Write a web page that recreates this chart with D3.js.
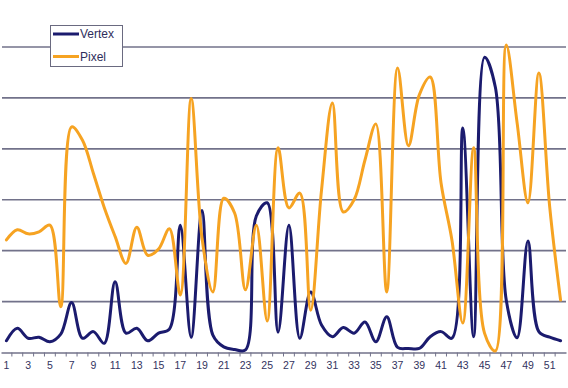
<!DOCTYPE html>
<html>
<head>
<meta charset="utf-8">
<script src="https://cdn.jsdelivr.net/npm/d3@7"></script>
<style>
  html, body { margin: 0; padding: 0; background: #ffffff; }
  svg { display: block; }
</style>
</head>
<body>
<svg id="chart" width="568" height="388"></svg>
<script>
const categories = d3.range(1, 53);
const tickLabels = d3.range(1, 52, 2);
const yTicks = [10, 20, 30, 40, 50, 60];

const vertex = [2.3, 4.75, 2.8, 3.0, 2.1, 3.6, 9.8, 2.8, 4.1, 1.8,
  13.9, 3.8, 4.75, 2.3, 3.8, 4.6, 25.0, 3.0, 27.9, 3.4,
  1.1, 0.6, 0.5, 26.8, 29.4, 4.0, 25.0, 2.8, 11.9, 5.4,
  3.1, 4.9, 3.8, 6.0, 2.1, 7.0, 1.0, 0.8, 0.8, 3.1,
  4.1, 2.8, 44.1, 3.1, 58.0, 52.1, 10.3, 2.9, 21.9, 4.1,
  3.0, 2.3];

const pixel = [22.1, 24.1, 23.3, 23.7, 25.0, 9.0, 44.3, 41.7, 35.2, 28.5,
  22.8, 17.5, 24.6, 19.1, 20.3, 24.3, 11.3, 49.9, 22.5, 11.9,
  30.3, 27.4, 12.3, 25.0, 6.2, 40.2, 28.4, 31.3, 8.3, 31.9,
  49.0, 27.6, 30.0, 37.8, 44.9, 11.9, 55.9, 40.6, 50.6, 54.1,
  33.3, 22.1, 5.8, 40.2, 3.8, 0.3, 60.4, 45.1, 29.4, 54.9,
  28.6, 10.3];

const series = [
  { name: "Vertex", values: vertex, color: "#1b1b6e" },
  { name: "Pixel", values: pixel, color: "#f6a322" }
];

const svg = d3.select("#chart");
const mLeft = 1, mRight = 566, mTop = 47, mBottom = 352.5;

const x = d3.scaleBand().domain(categories).range([mLeft, mRight]);
const y = d3.scaleLinear().domain([0, 60]).range([mBottom, mTop]);

// gridlines
svg.append("g").selectAll("line").data(yTicks).join("line")
  .attr("x1", mLeft + 1).attr("x2", mRight)
  .attr("y1", d => y(d)).attr("y2", d => y(d))
  .attr("stroke", "#72728a").attr("stroke-width", 1.6);

// x axis
const xAxis = d3.axisBottom(x)
  .tickValues(tickLabels)
  .tickSize(0)
  .tickPadding(9);
const gx = svg.append("g").attr("transform", `translate(0,${mBottom})`).call(xAxis);
gx.select(".domain").attr("stroke", "#72728a").attr("stroke-width", 1.6);
gx.selectAll("text")
  .attr("fill", "#333360")
  .style("font-family", "'Liberation Sans', Arial, sans-serif")
  .style("font-size", "10.5px");

// tick marks at band boundaries
svg.append("g").selectAll("line").data(categories.slice(1)).join("line")
  .attr("x1", d => x(d)).attr("x2", d => x(d))
  .attr("y1", mBottom).attr("y2", mBottom + 4)
  .attr("stroke", "#72728a").attr("stroke-width", 1);

// lines
const line = d3.line()
  .x((d, i) => x(categories[i]) + x.bandwidth() / 2)
  .y(d => y(d))
  .curve(d3.curveCatmullRom.alpha(0.5));

svg.append("g").selectAll("path").data(series).join("path")
  .attr("d", d => line(d.values))
  .attr("fill", "none")
  .attr("stroke", d => d.color)
  .attr("stroke-width", 3)
  .attr("stroke-linejoin", "round")
  .attr("stroke-linecap", "round");

// legend
const lg = svg.append("g");
lg.append("rect")
  .attr("x", 50.5).attr("y", 25.5).attr("width", 72).attr("height", 41)
  .attr("fill", "#ffffff").attr("stroke", "#6a6a80").attr("stroke-width", 1);
const items = lg.selectAll("g.item").data(series).join("g")
  .attr("class", "item")
  .attr("transform", (d, i) => `translate(0,${34 + i * 22.5})`);
items.append("line")
  .attr("x1", 53).attr("x2", 79).attr("y1", 0).attr("y2", 0)
  .attr("stroke", d => d.color).attr("stroke-width", 3);
items.append("text")
  .attr("x", 80).attr("y", 4.2)
  .attr("fill", "#2e2e5c")
  .style("font-family", "'Liberation Sans', Arial, sans-serif")
  .style("font-size", "12px")
  .text(d => d.name);
</script>
</body>
</html>
